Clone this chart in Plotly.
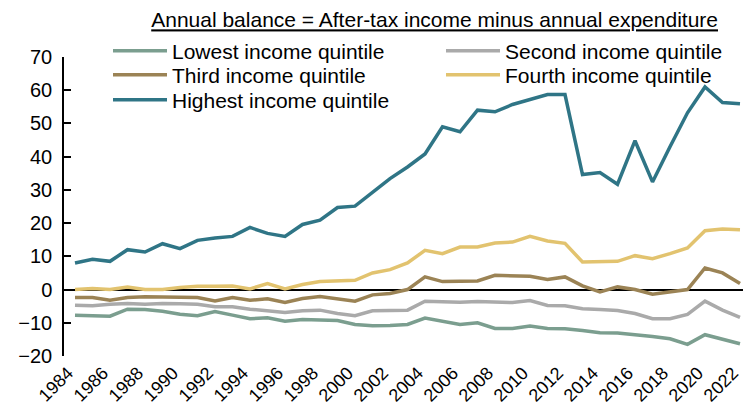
import plotly.graph_objects as go

years = list(range(1984, 2023))

lowest = [-7.7, -7.9, -8.0, -5.9, -6.0, -6.5, -7.4, -7.9, -6.6, -7.7, -8.8, -8.5, -9.5,
          -9.0, -9.2, -9.3, -10.5, -10.9, -10.8, -10.5, -8.6, -9.5, -10.5, -10.0, -11.7,
          -11.7, -11.0, -11.7, -11.8, -12.3, -13.0, -13.1, -13.5, -14.1, -14.8, -16.5,
          -13.6, -15.0, -16.3]
second = [-4.7, -4.9, -4.4, -4.2, -4.4, -4.2, -4.3, -4.4, -5.2, -5.2, -5.9, -6.5, -6.9,
          -6.4, -6.2, -7.2, -7.9, -6.4, -6.2, -6.2, -3.5, -3.6, -3.8, -3.6, -3.8,
          -3.9, -3.3, -4.8, -4.9, -5.8, -6.0, -6.3, -7.2, -8.8, -8.8, -7.5,
          -3.5, -6.2, -8.4]
third = [-2.4, -2.4, -3.2, -2.4, -2.2, -2.2, -2.2, -2.4, -3.4, -2.4, -3.2, -2.8, -3.9,
         -2.7, -2.1, -2.8, -3.5, -1.6, -1.2, 0.0, 3.8, 2.4, 2.4, 2.6, 4.3,
         4.1, 4.0, 3.0, 3.8, 1.1, -0.7, 0.8, 0.0, -1.4, -0.7, 0.0,
         6.5, 5.0, 1.8]
fourth = [0.0, 0.3, 0.0, 0.8, 0.0, 0.0, 0.6, 1.0, 1.0, 1.1, 0.2, 1.8, 0.2,
          1.5, 2.4, 2.5, 2.8, 5.0, 6.0, 8.0, 11.8, 10.8, 12.8, 12.8, 14.0,
          14.3, 16.0, 14.6, 13.9, 8.3, 8.5, 8.5, 10.2, 9.3, 10.8, 12.5,
          17.7, 18.2, 18.0]
highest = [8.0, 9.1, 8.5, 12.0, 11.3, 13.8, 12.3, 14.8, 15.5, 16.0, 18.7, 16.9, 16.0,
           19.6, 20.9, 24.7, 25.1, 29.4, 33.4, 36.9, 40.8, 49.0, 47.5, 54.0, 53.5,
           55.7, 57.2, 58.7, 58.7, 34.6, 35.2, 31.7, 44.8, 32.4, 43.0, 53.2,
           61.0, 56.3, 55.9]

names = ["Lowest income quintile", "Second income quintile", "Third income quintile",
         "Fourth income quintile", "Highest income quintile"]
colors = ["#7B9E8F", "#AAAAAA", "#9B8355", "#E2C36F", "#2F7586"]
series = [lowest, second, third, fourth, highest]
legend_ids = ["legend", "legend2", "legend3", "legend4", "legend5"]

tick_years = list(range(1984, 2023, 2))
tick_text = [str(y) for y in tick_years]

title_text = "Annual balance = After-tax income minus annual expenditure"

fig = go.Figure()
for nm, col, lg, vals in zip(names, colors, legend_ids, series):
    fig.add_trace(go.Scatter(x=years, y=vals, mode="lines", name=nm,
                             line=dict(color=col, width=3.5), legend=lg))

font_family = "Liberation Sans, Arial, sans-serif"

# the page body has an 8px margin; layout is expressed in screen pixels minus that offset
OFF = 8
W, H = 751 - OFF, 415 - OFF
PL, PW, PT, PH = 64 - OFF, 681, 57 - OFF, 299


def leg(x_screen, y_screen):
    return dict(orientation="v", xanchor="left", yanchor="middle",
                x=(x_screen - OFF - PL) / PW, y=(PT + PH - (y_screen - OFF)) / PH,
                bgcolor="rgba(0,0,0,0)",
                font=dict(size=21, color="black", family=font_family),
                itemwidth=54, itemclick=False, itemdoubleclick=False)


col1, col2 = 108, 441
fig.update_layout(
    width=W, height=H,
    margin=dict(l=PL, r=W - PL - PW, t=PT, b=H - PT - PH, autoexpand=False),
    plot_bgcolor="white", paper_bgcolor="white",
    font=dict(family=font_family, color="black", size=20),
    title=dict(text="<u>" + title_text + "</u>", x=(718 - OFF - PL) / PW, xref="paper",
               xanchor="right", y=1 - 12 / H, yref="container", yanchor="middle",
               font=dict(size=21, color="black", family=font_family)),
    legend=leg(col1, 51),
    legend2=leg(col2, 51),
    legend3=leg(col1, 75),
    legend4=leg(col2, 75),
    legend5=leg(col1, 100),
    showlegend=True,
    xaxis=dict(range=[1984 - 11 / 17.5, 2022 + 5 / 17.5], tickmode="array",
               tickvals=tick_years, ticktext=tick_text, tickangle=-45,
               showgrid=False, showline=False, ticks="", zeroline=False,
               ticklabelshift=-7, ticklabelstandoff=2,
               tickfont=dict(size=18, color="black")),
    yaxis=dict(range=[-20, 70], dtick=10, tick0=0, showgrid=False,
               showline=True, linecolor="black", linewidth=1.5,
               ticks="inside", ticklen=7, tickwidth=1.5, tickcolor="black",
               zeroline=True, zerolinecolor="black", zerolinewidth=1.5,
               ticklabelstandoff=6,
               tickfont=dict(size=20, color="black")),
)

fig.write_html("out.html")
